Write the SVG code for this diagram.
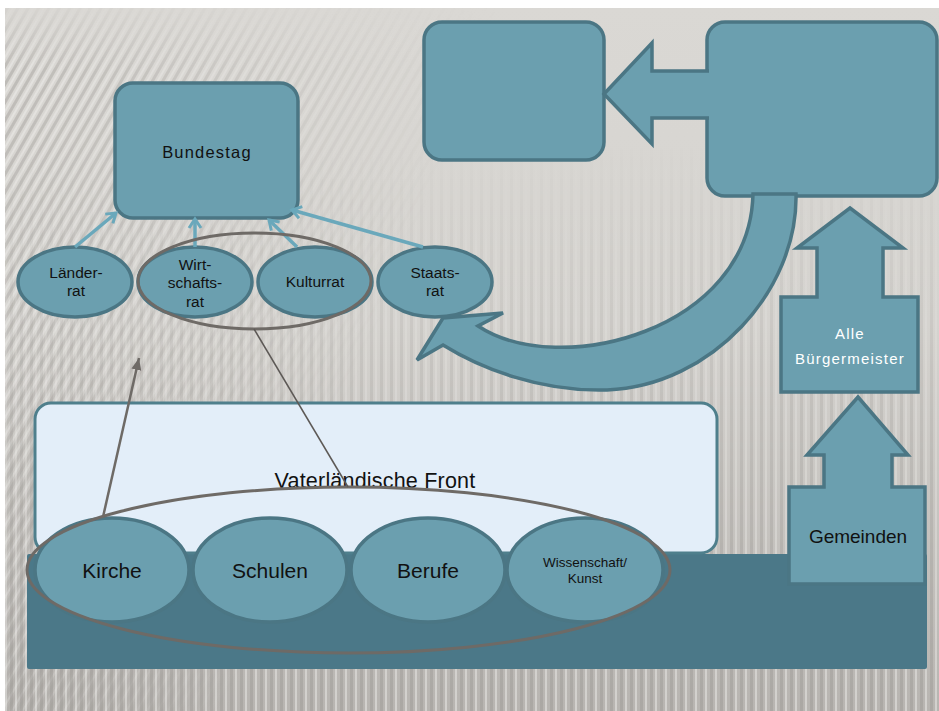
<svg xmlns="http://www.w3.org/2000/svg" width="939" height="711" viewBox="0 0 939 711">
<defs>
<linearGradient id="bg" x1="0" y1="0" x2="0" y2="1">
<stop offset="0" stop-color="#dad8d4"/>
<stop offset="0.45" stop-color="#d5d3cf"/>
<stop offset="1" stop-color="#b8b5b1"/>
</linearGradient>
<pattern id="diag" width="9" height="9" patternUnits="userSpaceOnUse" patternTransform="rotate(30)">
<rect width="3" height="9" fill="#a09d99"/>
<rect x="5" width="2" height="9" fill="#f2f1ef"/>
</pattern>
<pattern id="vert" width="10" height="10" patternUnits="userSpaceOnUse">
<rect width="3" height="10" fill="#9a9793"/>
<rect x="5" width="2" height="10" fill="#f4f3f1"/>
</pattern>
<linearGradient id="gl" x1="0" y1="0" x2="1" y2="0.3">
<stop offset="0" stop-color="#fff" stop-opacity="0.5"/>
<stop offset="0.25" stop-color="#fff" stop-opacity="0.25"/>
<stop offset="0.5" stop-color="#fff" stop-opacity="0"/>
</linearGradient>
<linearGradient id="gl2" x1="0" y1="0" x2="0" y2="1">
<stop offset="0" stop-color="#fff" stop-opacity="0"/>
<stop offset="0.1" stop-color="#fff" stop-opacity="1"/>
<stop offset="1" stop-color="#fff" stop-opacity="1"/>
</linearGradient>
<linearGradient id="gv" x1="0" y1="0" x2="0" y2="1">
<stop offset="0" stop-color="#fff" stop-opacity="0"/>
<stop offset="0.2" stop-color="#fff" stop-opacity="0"/>
<stop offset="0.5" stop-color="#fff" stop-opacity="0.2"/>
<stop offset="1" stop-color="#fff" stop-opacity="0.45"/>
</linearGradient>
<mask id="ml2"><rect x="0" y="0" width="939" height="711" fill="url(#gl2)"/></mask>
<mask id="ml"><rect x="0" y="0" width="939" height="711" fill="url(#gl)"/></mask>
<mask id="mv"><rect x="0" y="0" width="939" height="711" fill="url(#gv)"/></mask>
<marker id="chev" markerUnits="userSpaceOnUse" markerWidth="16" markerHeight="16" refX="12" refY="8" orient="auto">
<path d="M3,2 L12,8 L3,14" fill="none" stroke="#6aa8bb" stroke-width="3"/>
</marker>
<marker id="tri" markerUnits="userSpaceOnUse" markerWidth="14" markerHeight="14" refX="12" refY="7" orient="auto">
<path d="M0,2 L12,7 L0,12 Z" fill="#6e6a66"/>
</marker>
<style>
.node{fill:#6b9faf;stroke:#4b7684;stroke-width:3.5}
.dark{fill:#4b7888}
.t{font-family:"Liberation Sans",Arial,sans-serif;fill:#111;text-anchor:middle}
.w{font-family:"Liberation Sans",Arial,sans-serif;fill:#fff;text-anchor:middle}
.ring{fill:none;stroke:#6e6a66;stroke-width:3}
.blue{stroke:#6aa8bb;stroke-width:3.5;fill:none}
</style>
</defs>

<g id="background">
<rect x="0" y="0" width="939" height="711" fill="#ffffff"/>
<rect x="5" y="8" width="934" height="703" fill="url(#bg)"/>
<g mask="url(#ml2)"><rect x="5" y="8" width="934" height="703" fill="url(#diag)" mask="url(#ml)"/></g>
<rect x="5" y="8" width="934" height="703" fill="url(#vert)" mask="url(#mv)"/>
</g>

<g id="base">
<rect class="dark" x="27" y="554" width="900" height="115" rx="2"/>
</g>

<g id="vaterlaendische-front">
<rect x="35" y="403" width="682" height="150" rx="16" fill="#e3eef9" stroke="#4f7f8c" stroke-width="3"/>
<text class="t" x="375" y="488" font-size="21.5" letter-spacing="0.2">Vaterländische Front</text>
</g>

<g id="gemeinden">
<path class="node" d="M789,487 L824,487 L824,455 L807,455 L858,397 L908,455 L892,455 L892,487 L925,487 L925,584 L789,584 Z" stroke-width="3"/>
<text class="t" x="858" y="543" font-size="19">Gemeinden</text>
</g>

<g id="buergermeister">
<path class="node" d="M781,297 L817,297 L817,248 L797,248 L850,208 L903,248 L883,248 L883,297 L918,297 L918,392 L781,392 Z" stroke-width="3"/>
<text class="w" x="850" y="339" font-size="15" letter-spacing="1.2">Alle</text>
<text class="w" x="850" y="364" font-size="15" letter-spacing="1.2">Bürgermeister</text>
</g>

<g id="box-top-middle">
<rect class="node" x="424" y="22" width="180" height="138" rx="18"/>
</g>

<g id="box-top-right">
<rect class="node" x="707" y="22" width="230" height="174" rx="18"/>
</g>

<g id="arrow-left">
<path class="node" d="M709,71 L652,71 L652,43 L604,94 L652,144 L652,118 L709,118" stroke-width="3"/>
</g>

<g id="arrow-curved">
<path class="node" d="M753,194 L796,194 C798,290 712,386 607,390 C540,392 480,368 443,345 L417,360 L443,318 L503,313 L478,326 C560,380 750,330 753,194 Z" stroke-width="3"/>
</g>

<g id="bundestag">
<rect class="node" x="115" y="83" width="183" height="135" rx="18"/>
<text class="t" x="207" y="158" font-size="16.5" letter-spacing="1.2">Bundestag</text>
</g>

<g id="laenderrat">
<ellipse class="node" cx="75" cy="282" rx="57" ry="35"/>
<text class="t" x="76" y="278" font-size="15.5">Länder-</text>
<text class="t" x="76" y="296" font-size="15.5">rat</text>
</g>
<g id="wirtschaftsrat">
<ellipse class="node" cx="195" cy="282" rx="57" ry="35"/>
<text class="t" x="195" y="270" font-size="15.5">Wirt-</text>
<text class="t" x="195" y="288" font-size="15.5">schafts-</text>
<text class="t" x="195" y="307" font-size="15.5">rat</text>
</g>
<g id="kulturrat">
<ellipse class="node" cx="315" cy="282" rx="57" ry="35"/>
<text class="t" x="315" y="287" font-size="15.5">Kulturrat</text>
</g>
<g id="staatsrat">
<ellipse class="node" cx="435" cy="282" rx="57" ry="35"/>
<text class="t" x="435" y="278" font-size="15.5">Staats-</text>
<text class="t" x="435" y="296" font-size="15.5">rat</text>
</g>

<g id="kirche">
<ellipse class="node" cx="112" cy="570" rx="77" ry="52" stroke="#52808e"/>
<text class="t" x="112" y="578" font-size="21">Kirche</text>
</g>
<g id="schulen">
<ellipse class="node" cx="270" cy="570" rx="77" ry="52" stroke="#52808e"/>
<text class="t" x="270" y="578" font-size="21">Schulen</text>
</g>
<g id="berufe">
<ellipse class="node" cx="428" cy="570" rx="77" ry="52" stroke="#52808e"/>
<text class="t" x="428" y="578" font-size="21">Berufe</text>
</g>
<g id="wissenschaft-kunst">
<ellipse class="node" cx="585" cy="570" rx="78" ry="52" stroke="#52808e"/>
<text class="t" x="585" y="567" font-size="13.5">Wissenschaft/</text>
<text class="t" x="585" y="583" font-size="13.5">Kunst</text>
</g>

<g id="connectors">
<line class="blue" x1="75" y1="247" x2="116" y2="213" marker-end="url(#chev)"/>
<line class="blue" x1="195" y1="247" x2="195" y2="219" marker-end="url(#chev)"/>
<line class="blue" x1="297" y1="247" x2="269" y2="220" marker-end="url(#chev)"/>
<line class="blue" x1="423" y1="247" x2="292" y2="210" marker-end="url(#chev)"/>
<ellipse class="ring" cx="254.5" cy="281" rx="116.5" ry="48"/>
<ellipse class="ring" cx="348.5" cy="570" rx="321.5" ry="83"/>
<line x1="103" y1="517" x2="139" y2="358" stroke="#6e6a66" stroke-width="2.5" marker-end="url(#tri)"/>
<line x1="348" y1="487" x2="254" y2="329" stroke="#5d5956" stroke-width="1.5"/>
</g>
</svg>
